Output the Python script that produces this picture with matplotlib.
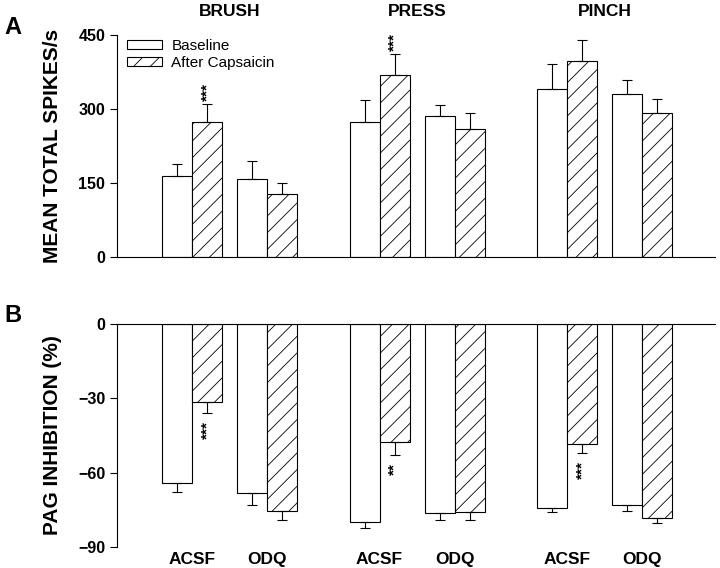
import numpy as np
import matplotlib
matplotlib.use("Agg")
import matplotlib.pyplot as plt

plt.rcParams['font.family'] = ['Liberation Sans', 'DejaVu Sans']
plt.rcParams['hatch.linewidth'] = 0.6

# -- Daten --
groups = ["BRUSH", "PRESS", "PINCH"]
conditions = ["ACSF", "ODQ"]
series_labels = ["Baseline", "After Capsaicin"]

spikes_baseline = [164, 158, 273, 286, 341, 331]
spikes_baseline_err = [25, 37, 45, 23, 50, 27]
spikes_caps = [274, 127, 368, 260, 397, 291]
spikes_caps_err = [36, 24, 44, 31, 43, 29]
spikes_stars = ["***", "", "***", "", "", ""]

inhib_baseline = [-64.2, -68.2, -79.8, -76.1, -74.2, -73.2]
inhib_baseline_err = [3.6, 4.8, 2.5, 3.1, 1.7, 2.4]
inhib_caps = [-31.6, -75.3, -47.6, -75.7, -48.3, -78.4]
inhib_caps_err = [4.3, 3.7, 5.1, 3.5, 3.6, 2.0]
inhib_stars = ["***", "", "**", "", "***", ""]

spikes_ticks = [0, 150, 300, 450]
inhib_ticks = [0, -30, -60, -90]

# -- Positionen --
width = 1.0
pair_centers = []
for g in range(len(groups)):
    for c in range(len(conditions)):
        pair_centers.append(2.5 + 6.25 * g + 2.5 * c)
pair_centers = np.array(pair_centers)
x_base = pair_centers - width / 2
x_caps = pair_centers + width / 2
group_centers = [(pair_centers[2 * g] + pair_centers[2 * g + 1]) / 2 for g in range(len(groups))]

fig = plt.figure(figsize=(7.2, 5.68), dpi=100)
ax_a = fig.add_axes([117 / 720, 1 - 257 / 568, 598 / 720, 222 / 568])
ax_b = fig.add_axes([117 / 720, 1 - 547 / 568, 598 / 720, 223 / 568])

bar_kw = dict(width=width, edgecolor="black", linewidth=0.8)
err_kw = dict(fmt="none", ecolor="black", elinewidth=0.8, capsize=3.5, capthick=0.8)

# -- Panel A --
ax_a.bar(x_base, spikes_baseline, color="white", label=series_labels[0], **bar_kw)
ax_a.bar(x_caps, spikes_caps, color="white", hatch="//", label=series_labels[1], **bar_kw)
zeros = [0] * len(spikes_baseline)
ax_a.errorbar(x_base, spikes_baseline, yerr=[zeros, spikes_baseline_err], **err_kw)
ax_a.errorbar(x_caps, spikes_caps, yerr=[zeros, spikes_caps_err], **err_kw)
for x, v, e, s in zip(x_caps, spikes_caps, spikes_caps_err, spikes_stars):
    if s:
        ax_a.annotate(s, (x, v + e), xytext=(0, 2), textcoords="offset points",
                      rotation=90, ha="center", va="bottom", fontsize=11, fontweight="bold")

ax_a.set_xlim(0, 598 / 30)
ax_a.set_ylim(0, 450)
ax_a.set_yticks(spikes_ticks)
ax_a.set_xticks([])
ax_a.spines["top"].set_visible(False)
ax_a.spines["right"].set_visible(False)
ax_a.tick_params(axis="y", direction="out", length=5, width=0.8, labelsize=11.5, pad=3.5)
for lab in ax_a.get_yticklabels():
    lab.set_fontweight("bold")
ax_a.set_ylabel("MEAN TOTAL SPIKES/s", fontsize=15, fontweight="bold")
ax_a.yaxis.set_label_coords(-0.092, 0.5)
for gx, name in zip(group_centers, groups):
    ax_a.text(gx, 1.108, name, transform=ax_a.get_xaxis_transform(), ha="center", va="center",
              fontsize=12.5, fontweight="bold")
ax_a.legend(loc="upper left", bbox_to_anchor=(0.0167, 0.982), frameon=False, borderaxespad=0,
            borderpad=0, handlelength=2.3, handleheight=0.55, labelspacing=0.2,
            handletextpad=0.6, fontsize=11)

# -- Panel B --
ax_b.bar(x_base, inhib_baseline, color="white", **bar_kw)
ax_b.bar(x_caps, inhib_caps, color="white", hatch="//", **bar_kw)
ax_b.errorbar(x_base, inhib_baseline, yerr=[inhib_baseline_err, zeros], **err_kw)
ax_b.errorbar(x_caps, inhib_caps, yerr=[inhib_caps_err, zeros], **err_kw)
for x, v, e, s in zip(x_caps, inhib_caps, inhib_caps_err, inhib_stars):
    if s:
        ax_b.annotate(s, (x, v - e), xytext=(0, -6), textcoords="offset points",
                      rotation=90, ha="center", va="top", fontsize=11, fontweight="bold")

ax_b.set_xlim(0, 598 / 30)
ax_b.set_ylim(-90, 0)
ax_b.set_yticks(inhib_ticks)
ax_b.set_xticks([])
ax_b.spines["bottom"].set_visible(False)
ax_b.spines["right"].set_visible(False)
ax_b.tick_params(axis="y", direction="out", length=5, width=0.8, labelsize=11.5, pad=3.5)
for lab in ax_b.get_yticklabels():
    lab.set_fontweight("bold")
ax_b.set_ylabel("PAG INHIBITION (%)", fontsize=15, fontweight="bold")
ax_b.yaxis.set_label_coords(-0.092, 0.5)
for i, px in enumerate(pair_centers):
    ax_b.text(px, -0.058, conditions[i % 2], transform=ax_b.get_xaxis_transform(),
              ha="center", va="center", fontsize=12.5, fontweight="bold")

fig.text(13 / 720, 1 - 27 / 568, "A", ha="center", va="center", fontsize=17, fontweight="bold")
fig.text(13 / 720, 1 - 316 / 568, "B", ha="center", va="center", fontsize=17, fontweight="bold")

fig.savefig("out.png", dpi=100)
